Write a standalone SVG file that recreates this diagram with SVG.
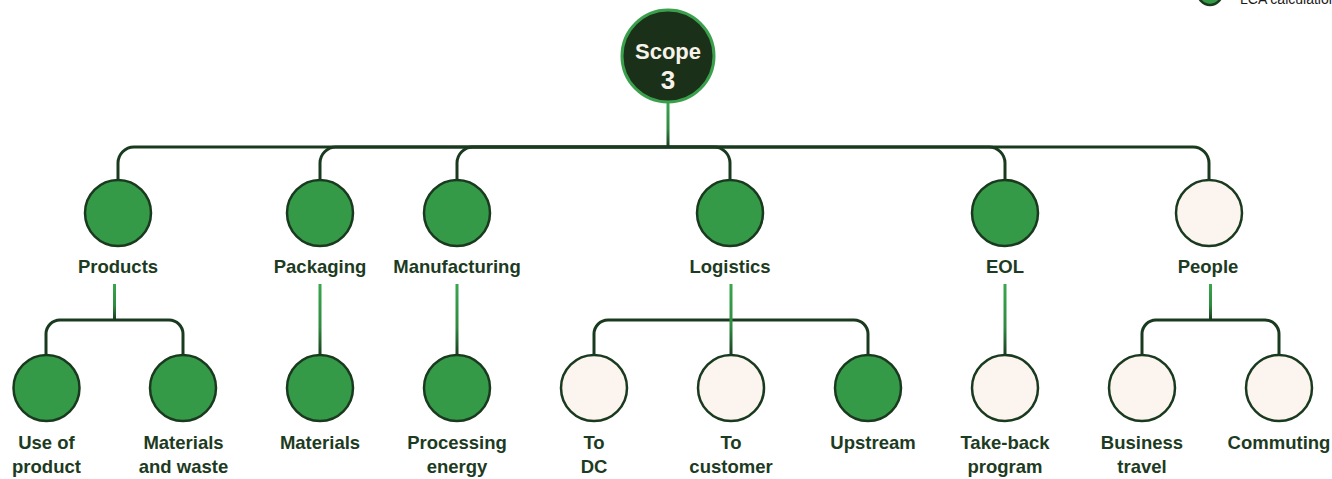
<svg xmlns="http://www.w3.org/2000/svg" width="1332" height="479" viewBox="0 0 1332 479">
<style>
.g{fill:#359a48;stroke:#1a3a1f;stroke-width:2.5}
.c{fill:#fcf4ee;stroke:#1a3a1f;stroke-width:2.5}
.t{font-family:"Liberation Sans",Arial,sans-serif;font-weight:bold;font-size:18.5px;fill:#1d3b22;text-anchor:middle}
.w{fill:none;stroke:#1a3a1f;stroke-width:3}
</style>
<defs>
<linearGradient id="gr" x1="0" y1="0" x2="0" y2="1">
<stop offset="0" stop-color="#3aa64d"/>
<stop offset="0.6" stop-color="#2f8a40"/>
<stop offset="1" stop-color="#1a3a1f"/>
</linearGradient>
</defs>
<g id="legend">
<circle cx="1210" cy="-7" r="12" class="g"/>
<text x="1240" y="4" font-family="Liberation Sans,Arial,sans-serif" font-size="14" fill="#1a1a1a">LCA calculation</text>
</g>
<g id="connectors">
<rect x="666.5" y="102" width="3" height="45" fill="url(#gr)"/>
<path class="w" d="M668,147 H134 A16,16 0 0 0 118,163 V181"/>
<path class="w" d="M668,147 H336 A16,16 0 0 0 320,163 V181"/>
<path class="w" d="M668,147 H473 A16,16 0 0 0 457,163 V181"/>
<path class="w" d="M668,147 H714 A16,16 0 0 1 730,163 V181"/>
<path class="w" d="M668,147 H989 A16,16 0 0 1 1005,163 V181"/>
<path class="w" d="M668,147 H1193 A16,16 0 0 1 1209,163 V181"/>
<rect x="113" y="284" width="3" height="36" fill="url(#gr)"/>
<path class="w" d="M114.5,320 H60 A14,14 0 0 0 46,334 V356 M114.5,320 H169 A14,14 0 0 1 183,334 V356"/>
<rect x="318.5" y="284" width="3" height="72" fill="url(#gr)"/>
<rect x="455.5" y="284" width="3" height="72" fill="url(#gr)"/>
<path class="w" d="M731,320 H608 A14,14 0 0 0 594,334 V356 M731,320 H854 A14,14 0 0 1 868,334 V356"/>
<rect x="729.5" y="284" width="3" height="72" fill="url(#gr)"/>
<rect x="1003.5" y="284" width="3" height="72" fill="url(#gr)"/>
<rect x="1209" y="284" width="3" height="36" fill="url(#gr)"/>
<path class="w" d="M1210.5,320 H1156 A14,14 0 0 0 1142,334 V356 M1210.5,320 H1265 A14,14 0 0 1 1279,334 V356"/>
</g>
<g id="scope">
<circle cx="668" cy="56" r="46" fill="#1b3019" stroke="#3aa04c" stroke-width="3"/>
<text x="668" y="59" font-family="Liberation Sans,Arial,sans-serif" font-weight="bold" font-size="22" fill="#f8f3ea" text-anchor="middle">Scope</text>
<text x="668" y="89" font-family="Liberation Sans,Arial,sans-serif" font-weight="bold" font-size="26" fill="#f8f3ea" text-anchor="middle">3</text>
</g>
<g id="products"><circle cx="118" cy="213" r="33" class="g"/><text x="118" y="273" class="t">Products</text></g>
<g id="packaging"><circle cx="320" cy="213" r="33" class="g"/><text x="320" y="273" class="t">Packaging</text></g>
<g id="manufacturing"><circle cx="457" cy="213" r="33" class="g"/><text x="457" y="273" class="t">Manufacturing</text></g>
<g id="logistics"><circle cx="730" cy="213" r="33" class="g"/><text x="730" y="273" class="t">Logistics</text></g>
<g id="eol"><circle cx="1005" cy="213" r="33" class="g"/><text x="1005" y="273" class="t">EOL</text></g>
<g id="people"><circle cx="1209" cy="213" r="33" class="c"/><text x="1208" y="273" class="t">People</text></g>
<g id="use-of-product"><circle cx="46.5" cy="388" r="33" class="g"/><text x="46.5" y="449" class="t">Use of</text><text x="46.5" y="473" class="t">product</text></g>
<g id="materials-and-waste"><circle cx="183" cy="388" r="33" class="g"/><text x="183.5" y="449" class="t">Materials</text><text x="183.5" y="473" class="t">and waste</text></g>
<g id="materials"><circle cx="320" cy="388" r="33" class="g"/><text x="320" y="449" class="t">Materials</text></g>
<g id="processing-energy"><circle cx="457" cy="388" r="33" class="g"/><text x="457" y="449" class="t">Processing</text><text x="457" y="473" class="t">energy</text></g>
<g id="to-dc"><circle cx="594" cy="388" r="33" class="c"/><text x="594" y="449" class="t">To</text><text x="594" y="473" class="t">DC</text></g>
<g id="to-customer"><circle cx="731" cy="388" r="33" class="c"/><text x="731" y="449" class="t">To</text><text x="731" y="473" class="t">customer</text></g>
<g id="upstream"><circle cx="868" cy="388" r="33" class="g"/><text x="873" y="449" class="t">Upstream</text></g>
<g id="take-back-program"><circle cx="1005" cy="388" r="33" class="c"/><text x="1005" y="449" class="t">Take-back</text><text x="1005" y="473" class="t">program</text></g>
<g id="business-travel"><circle cx="1142" cy="388" r="33" class="c"/><text x="1142" y="449" class="t">Business</text><text x="1142" y="473" class="t">travel</text></g>
<g id="commuting"><circle cx="1279" cy="388" r="33" class="c"/><text x="1279" y="449" class="t">Commuting</text></g>
</svg>
